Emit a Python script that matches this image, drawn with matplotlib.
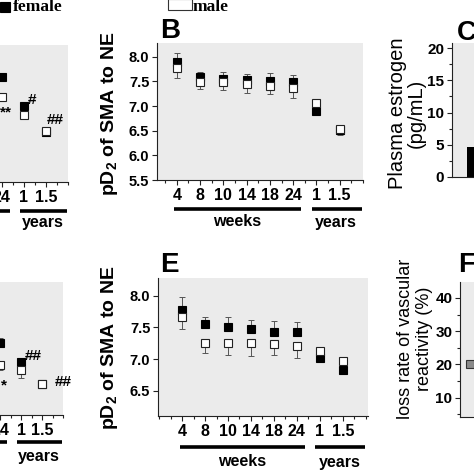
import numpy as np
import matplotlib
matplotlib.use('Agg')
import matplotlib.pyplot as plt
from matplotlib.patches import Rectangle
from matplotlib.ticker import MultipleLocator
from matplotlib.transforms import blended_transform_factory

W = H = 474
plt.rcParams['font.family'] = 'Liberation Sans'
plt.rcParams['mathtext.fontset'] = 'custom'
plt.rcParams['mathtext.rm'] = 'Liberation Sans:bold'
plt.rcParams['mathtext.bf'] = 'Liberation Sans:bold'

GRAY = '#ebebeb'
nan = np.nan

# age groups (same for every pD2 panel)
ages = ['4', '8', '10', '14', '18', '24', '1', '1.5']
group_names = ['weeks', 'years']
group_spans = [(-0.1, 5.35), (5.8, 7.95)]
group_centers = [2.6, 6.85]

# panel A (only the right end is in view)
a_female = [nan, nan, nan, nan, nan, 7.63, 7.05, 6.52]
a_female_err = [0, 0, 0, 0, 0, 0.08, 0.05, 0.04]
a_male = [nan, nan, nan, nan, nan, 7.23, 6.85, 6.54]
a_male_err = [0, 0, 0, 0, 0, 0.08, 0.08, 0.05]

# panel B
b_female = [7.89, 7.59, 7.55, 7.53, 7.51, 7.49, 6.90, 6.52]
b_female_err = [0.19, 0.10, 0.14, 0.12, 0.16, 0.14, 0.05, 0.05]
b_male = [7.78, 7.49, 7.49, 7.45, 7.41, 7.37, 7.06, 6.54]
b_male_err = [0.21, 0.14, 0.16, 0.18, 0.16, 0.20, 0.04, 0.13]

# panel D (only the right end is in view)
d_female = [nan, nan, nan, nan, nan, 7.28, 6.97, 6.60]
d_female_err = [0, 0, 0, 0, 0, 0.08, 0.05, 0.04]
d_male = [nan, nan, nan, nan, nan, 6.92, 6.84, 6.61]
d_male_err = [0, 0, 0, 0, 0, 0.08, 0.13, 0.04]

# panel E
e_female = [7.77, 7.55, 7.50, 7.47, 7.42, 7.42, 7.01, 6.83]
e_female_err = [0.21, 0.12, 0.17, 0.14, 0.18, 0.16, 0.04, 0.08]
e_male = [7.67, 7.25, 7.25, 7.25, 7.23, 7.21, 7.13, 6.97]
e_male_err = [0.19, 0.16, 0.18, 0.20, 0.16, 0.20, 0.05, 0.04]

# panel C and F (first bar / point only)
estrogen = [4.6]
loss_rate = [20.0]

fig = plt.figure(figsize=(W / 100, H / 100), dpi=100)


def add_ax(x0, y0, x1, y1):
  # pixel box (top-left origin) -> figure fraction
  return fig.add_axes([x0 / W, 1 - y1 / H, (x1 - x0) / W, (y1 - y0) / H])


def style(ax):
  ax.set_facecolor(GRAY)
  for s in ('top', 'right'):
    ax.spines[s].set_visible(False)
  for s in ('left', 'bottom'):
    ax.spines[s].set_linewidth(0.8)
    ax.spines[s].set_color('#222222')
  ax.tick_params(which='both', direction='out', width=0.8, color='#222222')
  ax.tick_params(which='major', length=3.5, pad=2)
  ax.tick_params(which='minor', length=2)


def age_panel(box, xlim, ylim, female, female_err, male, male_err, line_dy, text_dy):
  x0, y0, x1, y1 = box
  ax = add_ax(*box)
  style(ax)
  pos = np.arange(len(ages))
  zero = np.zeros(len(ages))
  ax.errorbar(pos, female, yerr=[zero, female_err], fmt='none', ecolor='#555555',
              elinewidth=0.7, capsize=2.2, capthick=0.7, zorder=2)
  ax.errorbar(pos, male, yerr=[male_err, zero], fmt='none', ecolor='#555555',
              elinewidth=0.7, capsize=2.2, capthick=0.7, zorder=2)
  ax.plot(pos, female, 's', ms=5.3, mfc='black', mec='black', mew=0.8, zorder=3)
  ax.plot(pos, male, 's', ms=5.3, mfc='white', mec='#222222', mew=0.8, zorder=4)
  ax.set_xlim(*xlim)
  ax.set_ylim(*ylim)
  ax.set_xticks(pos)
  ax.set_xticklabels(ages, fontsize=11.5, fontweight='bold')
  ax.xaxis.set_minor_locator(MultipleLocator(0.5))
  ax.yaxis.set_major_locator(MultipleLocator(0.5))
  ax.yaxis.set_major_formatter(matplotlib.ticker.FormatStrFormatter('%.1f'))
  h = y1 - y0
  tr = blended_transform_factory(ax.transData, ax.transAxes)
  for (a, b), c, lab in zip(group_spans, group_centers, group_names):
    ax.plot([a, b], [-line_dy / h] * 2, transform=tr, color='black', lw=2.6,
            clip_on=False, solid_capstyle='butt')
    ax.text(c, -text_dy / h, lab, transform=tr, ha='center', va='center',
            fontsize=11.5, fontweight='bold')
  return ax


ax_a = age_panel((-127, 45, 68, 182), (-0.85, 8.0), (5.5, 8.28),
                 a_female, a_female_err, a_male, a_male_err, 29, 40)
ax_b = age_panel((157, 43, 363, 180), (-0.85, 8.0), (5.5, 8.28),
                 b_female, b_female_err, b_male, b_male_err, 29, 42)
ax_d = age_panel((-127, 282, 63, 415), (-1.05, 8.0), (6.1, 8.28),
                 d_female, d_female_err, d_male, d_male_err, 27, 42)
ax_e = age_panel((158, 278, 368, 416), (-1.05, 8.1), (6.1, 8.28),
                 e_female, e_female_err, e_male, e_male_err, 31, 46)

for ax in (ax_a, ax_b, ax_d, ax_e):
  for t in ax.get_yticklabels():
    t.set_fontweight('bold')
    t.set_fontsize(10.5)

# significance marks
sig = dict(fontsize=11, fontweight='bold', va='center')
ax_a.text(5.45, 6.92, '**', ha='right', **sig)
ax_a.text(6.36, 7.16, '#', ha='center', **sig)
ax_a.text(7.05, 6.76, '##', ha='left', **sig)
ax_d.text(5.2, 6.59, '*', ha='center', **sig)
ax_d.text(6.2, 7.07, '##', ha='left', **sig)
ax_d.text(7.62, 6.64, '##', ha='left', **sig)

# panel C: plasma estrogen
ax_c = add_ax(452, 43, 560, 177)
style(ax_c)
ax_c.bar(range(len(estrogen)), estrogen, width=0.6, color='black')
ax_c.set_xlim(-0.7, 2.18)
ax_c.set_ylim(0, 20.8)
ax_c.yaxis.set_major_locator(MultipleLocator(5))
ax_c.yaxis.set_minor_locator(MultipleLocator(2.5))
ax_c.set_xticks([])
for t in ax_c.get_yticklabels():
  t.set_fontweight('bold')
  t.set_fontsize(11)

# panel F: loss rate
ax_f = add_ax(460, 282, 560, 417)
style(ax_f)
ax_f.plot(range(len(loss_rate)), loss_rate, 's', ms=5.3, mfc='#8a8a8a', mec='#333333', mew=0.8)
ax_f.set_xlim(-0.3, 2.7)
ax_f.set_ylim(4.2, 44.8)
ax_f.yaxis.set_major_locator(MultipleLocator(10))
ax_f.yaxis.set_minor_locator(MultipleLocator(5))
ax_f.set_xticks([])
for t in ax_f.get_yticklabels():
  t.set_fontweight('bold')
  t.set_fontsize(11)


def ftext(x, y, s, **kw):
  fig.text(x / W, 1 - y / H, s, **kw)


# y labels
ylab = r'pD$_{\mathbf{2}}$ of SMA to NE'
ftext(110, 114, ylab, rotation=90, ha='center', va='center', fontsize=14, fontweight='bold')
ftext(110, 348, ylab, rotation=90, ha='center', va='center', fontsize=14, fontweight='bold')
ftext(407, 113, 'Plasma estrogen\n(pg/mL)', rotation=90, ha='center', va='center',
      fontsize=14.5, linespacing=1.0)
ftext(415, 339, 'loss rate of vascular\nreactivity (%)', rotation=90, ha='center', va='center',
      fontsize=13, linespacing=1.1)

# panel letters
for x, y, s in [(160, 38, 'B'), (160, 272, 'E'), (457, 40, 'C'), (458, 272, 'F')]:
  ftext(x, y, s, fontsize=20, fontweight='bold', va='baseline')

# legend
fig.add_artist(Rectangle((0, 1 - 12 / H), 10 / W, 10 / H, transform=fig.transFigure,
                         facecolor='black', edgecolor='black', lw=0.8))
ftext(13, 7, 'female', family='Liberation Serif', fontweight='bold', fontsize=12.5, va='center')
fig.add_artist(Rectangle((168 / W, 1 - 10 / H), 24 / W, 11 / H, transform=fig.transFigure,
                         facecolor='white', edgecolor='#333333', lw=0.8))
ftext(193, 7, 'male', family='Liberation Serif', fontweight='bold', fontsize=12.5, va='center')

fig.savefig('out.png', dpi=100)
